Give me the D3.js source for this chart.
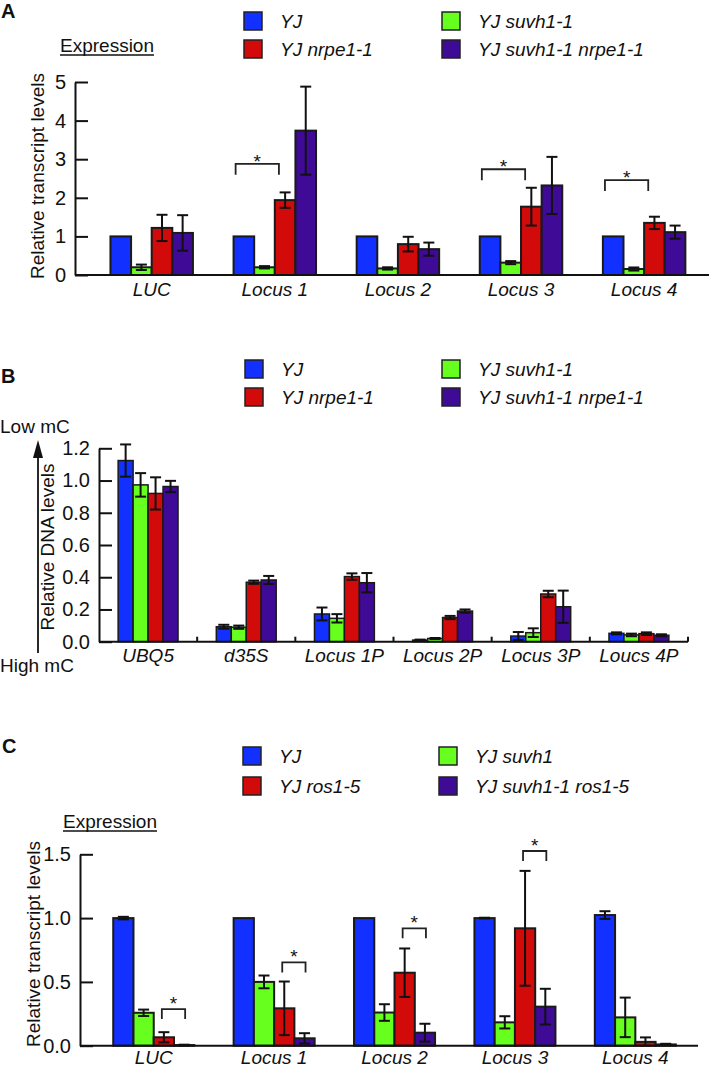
<!DOCTYPE html>
<html><head><meta charset="utf-8">
<script src="https://cdn.jsdelivr.net/npm/d3@7"></script>
<style>
body{margin:0;background:#fff}
svg{display:block}
text{font-family:"Liberation Sans",Arial,Helvetica,sans-serif;fill:#111}
</style>
</head><body>
<svg id="chart" width="709" height="1069"></svg>
<script>
// ---------------- DATA ----------------
const colors = ["#1230FF", "#66FF1E", "#D20A0A", "#3E0A96"];

// Panel A
const seriesA = ["YJ", "YJ suvh1-1", "YJ nrpe1-1", "YJ suvh1-1 nrpe1-1"];
const categoriesA = ["LUC", "Locus 1", "Locus 2", "Locus 3", "Locus 4"];
const valuesA = [
  [1.0, 1.0, 1.0, 1.0, 1.0],
  [0.20, 0.20, 0.17, 0.32, 0.155],
  [1.22, 1.94, 0.80, 1.77, 1.35],
  [1.09, 3.74, 0.67, 2.32, 1.11]
];
const errorsA = [
  [0, 0, 0, 0, 0],
  [0.07, 0.03, 0.03, 0.04, 0.04],
  [0.34, 0.20, 0.19, 0.49, 0.16],
  [0.46, 1.14, 0.17, 0.74, 0.17]
];
const ticksA = [0, 1, 2, 3, 4, 5];
const bracketsA = [
  {cat: "Locus 1", from: 0, to: 2, y: 2.88},
  {cat: "Locus 3", from: 0, to: 2, y: 2.74},
  {cat: "Locus 4", from: 0, to: 2, y: 2.46}
];

// Panel B
const seriesB = ["YJ", "YJ suvh1-1", "YJ nrpe1-1", "YJ suvh1-1 nrpe1-1"];
const categoriesB = ["UBQ5", "d35S", "Locus 1P", "Locus 2P", "Locus 3P", "Loucs 4P"];
const valuesB = [
  [1.124, 0.093, 0.172, 0.010, 0.035, 0.052],
  [0.973, 0.090, 0.145, 0.020, 0.056, 0.042],
  [0.920, 0.369, 0.404, 0.150, 0.296, 0.050],
  [0.963, 0.383, 0.366, 0.190, 0.217, 0.040]
];
const errorsB = [
  [0.100, 0.012, 0.040, 0.003, 0.025, 0.006],
  [0.073, 0.010, 0.026, 0.003, 0.027, 0.008],
  [0.100, 0.010, 0.020, 0.010, 0.020, 0.008],
  [0.035, 0.025, 0.060, 0.010, 0.100, 0.006]
];
const ticksB = [0, 0.2, 0.4, 0.6, 0.8, 1.0, 1.2];

// Panel C
const seriesC = ["YJ", "YJ suvh1", "YJ ros1-5", "YJ suvh1-1 ros1-5"];
const categoriesC = ["LUC", "Locus 1", "Locus 2", "Locus 3", "Locus 4"];
const valuesC = [
  [1.0, 1.0, 1.0, 1.0, 1.024],
  [0.258, 0.50, 0.26, 0.183, 0.222],
  [0.066, 0.293, 0.572, 0.92, 0.03],
  [0.005, 0.058, 0.102, 0.306, 0.01]
];
const errorsC = [
  [0.01, 0, 0, 0.003, 0.03],
  [0.025, 0.05, 0.065, 0.048, 0.155],
  [0.04, 0.21, 0.19, 0.45, 0.035],
  [0.003, 0.04, 0.07, 0.14, 0.005]
];
const ticksC = [0, 0.5, 1.0, 1.5];
const bracketsC = [
  {cat: "LUC", from: 2, to: 3, y: 0.287},
  {cat: "Locus 1", from: 2, to: 3, y: 0.653},
  {cat: "Locus 2", from: 2, to: 3, y: 0.92},
  {cat: "Locus 3", from: 2, to: 3, y: 1.526}
];

// ---------------- DRAWING ----------------
const svg = d3.select("#chart");
const FS = 19;

function legend(series, x0, x1, y0, dy) {
  const g = svg.append("g");
  series.forEach((s, i) => {
    const col = i % 2, row = Math.floor(i / 2);
    const lx = col === 0 ? x0 : x1;
    const ly = y0 + row * dy;
    g.append("rect").attr("x", lx).attr("y", ly).attr("width", 18).attr("height", 18)
      .attr("fill", colors[i]).attr("stroke", "#222").attr("stroke-width", 1.5);
    g.append("text").attr("x", lx + 36).attr("y", ly + 16)
      .attr("font-size", FS).attr("font-style", "italic").text(s);
  });
}

function underlinedText(x, y, str) {
  const t = svg.append("text").attr("x", x).attr("y", y).attr("font-size", FS).text(str);
  const w = t.node().getComputedTextLength();
  svg.append("line").attr("x1", x).attr("x2", x + w).attr("y1", y + 3).attr("y2", y + 3)
    .attr("stroke", "#111").attr("stroke-width", 1.3);
}

function panel(o) {
  const g = svg.append("g");
  const x0 = d3.scaleBand().domain(o.cats).range(o.xr)
    .paddingInner(o.pi).paddingOuter(o.po).align(o.al);
  const x1 = d3.scaleBand().domain(d3.range(o.series.length)).range([0, x0.bandwidth()]);
  const y = d3.scaleLinear().domain(o.yd).range(o.yr);
  const bw = x1.bandwidth();

  // bars
  o.series.forEach((s, si) => {
    g.append("g").selectAll("rect").data(o.cats).join("rect")
      .attr("x", c => x0(c) + x1(si))
      .attr("y", (c, ci) => y(o.vals[si][ci]))
      .attr("width", bw)
      .attr("height", (c, ci) => y(0) - y(o.vals[si][ci]))
      .attr("fill", colors[si]).attr("stroke", "#1a1a1a").attr("stroke-width", o.bs);
  });
  // error bars
  o.series.forEach((s, si) => {
    o.cats.forEach((c, ci) => {
      const e = o.errs[si][ci];
      if (!e) return;
      const v = o.vals[si][ci];
      const cx = x0(c) + x1(si) + bw / 2;
      const lo = Math.max(0, v - e), hi = v + e;
      const eg = g.append("g").attr("stroke", "#111").attr("stroke-width", 2);
      eg.append("line").attr("x1", cx).attr("x2", cx).attr("y1", y(lo)).attr("y2", y(hi));
      eg.append("line").attr("x1", cx - o.cap).attr("x2", cx + o.cap).attr("y1", y(hi)).attr("y2", y(hi));
      eg.append("line").attr("x1", cx - o.cap).attr("x2", cx + o.cap).attr("y1", y(lo)).attr("y2", y(lo));
    });
  });
  // brackets
  (o.brackets || []).forEach(b => {
    const xa = x0(b.cat) + x1(b.from) + bw * o.bf[0];
    const xb = x0(b.cat) + x1(b.to) + bw * o.bf[1];
    const yt = y(b.y);
    g.append("path").attr("d", `M${xa},${yt + o.leg}V${yt}H${xb}V${yt + o.leg}`)
      .attr("fill", "none").attr("stroke", "#222").attr("stroke-width", 1.8);
    g.append("text").attr("x", (xa + xb) / 2).attr("y", yt + o.starDy)
      .attr("text-anchor", "middle").attr("font-size", FS).text("*");
  });
  // x axis line
  g.append("line").attr("x1", o.xr[0]).attr("x2", o.xr[1]).attr("y1", y(0)).attr("y2", y(0))
    .attr("stroke", "#111").attr("stroke-width", 2);
  if (o.sepTicks) {
    const step = x0.step();
    const starts = o.cats.map(c => x0(c) - x0.paddingInner() * step / 2);
    starts.slice(1).concat([o.xr[1]]).forEach(sx => {
      g.append("line").attr("x1", sx).attr("x2", sx).attr("y1", y(0)).attr("y2", y(0) - 5)
        .attr("stroke", "#111").attr("stroke-width", 2);
    });
  }
  // category labels
  g.append("g").selectAll("text").data(o.cats).join("text")
    .attr("x", c => x0(c) + x0.bandwidth() / 2)
    .attr("y", y(0) + o.labDy)
    .attr("text-anchor", "middle").attr("font-size", FS).attr("font-style", "italic")
    .text(c => c);
  // y axis
  const ax = g.append("g").attr("transform", `translate(${o.xr[0]},0)`)
    .call(d3.axisLeft(y).tickValues(o.ticks).tickFormat(o.fmt).tickSize(-13).tickSizeOuter(0).tickPadding(9));
  ax.select(".domain").attr("stroke", "#111").attr("stroke-width", 2);
  ax.selectAll(".tick line").attr("stroke", "#111").attr("stroke-width", 2);
  ax.selectAll(".tick text").attr("font-size", FS + 1).attr("fill", "#111")
    .attr("font-family", '"Liberation Sans",Arial,sans-serif');
  // y title
  g.append("text").attr("transform", `translate(${o.tx},${o.ty}) rotate(-90)`)
    .attr("text-anchor", "middle").attr("font-size", FS).text(o.title);
}

// Panel A
svg.append("text").attr("x", 1).attr("y", 18).attr("font-size", 20).attr("font-weight", "bold").text("A");
legend(seriesA, 244, 442, 12, 28);
underlinedText(60, 52, "Expression");
panel({
  cats: categoriesA, series: seriesA, vals: valuesA, errs: errorsA,
  xr: [75, 709], pi: 0.33, po: 0.24, al: 0.6,
  yd: [0, 5], yr: [275, 82], ticks: ticksA, fmt: d3.format("d"),
  bs: 2, cap: 5.5, brackets: bracketsA, bf: [0.1, 0.2], leg: 11, starDy: 4, labDy: 21,
  title: "Relative transcript levels", tx: 44, ty: 176
});

// Panel B
svg.append("text").attr("x", 1).attr("y", 383).attr("font-size", 20).attr("font-weight", "bold").text("B");
legend(seriesB, 245, 442, 360, 28);
panel({
  cats: categoriesB, series: seriesB, vals: valuesB, errs: errorsB,
  xr: [99, 688], pi: 0.39, po: 0.195, al: 0.5,
  yd: [0, 1.2], yr: [641.7, 448.3], ticks: ticksB, fmt: d3.format(".1f"),
  bs: 1.5, cap: 5.5, sepTicks: true, labDy: 20,
  title: "Relative DNA levels", tx: 54, ty: 547
});
// methylation arrow
svg.append("line").attr("x1", 38).attr("x2", 38).attr("y1", 653).attr("y2", 455)
  .attr("stroke", "#111").attr("stroke-width", 1.8);
svg.append("path").attr("d", "M38,440L43,458L33,458Z").attr("fill", "#111");
svg.append("text").attr("x", 0).attr("y", 433).attr("font-size", FS).text("Low mC");
svg.append("text").attr("x", 0).attr("y", 672).attr("font-size", FS).text("High mC");

// Panel C
svg.append("text").attr("x", 2).attr("y", 753).attr("font-size", 20).attr("font-weight", "bold").text("C");
legend(seriesC, 243, 439, 747, 30);
underlinedText(63, 828, "Expression");
panel({
  cats: categoriesC, series: seriesC, vals: valuesC, errs: errorsC,
  xr: [80, 698], pi: 0.327, po: 0.23, al: 0.6,
  yd: [0, 1.5], yr: [1045.7, 854.3], ticks: ticksC, fmt: d3.format(".1f"),
  bs: 2, cap: 5.5, brackets: bracketsC, bf: [0.4, 0.55], leg: 10, starDy: 1, labDy: 18,
  title: "Relative transcript levels", tx: 40, ty: 944
});
</script>
</body></html>
